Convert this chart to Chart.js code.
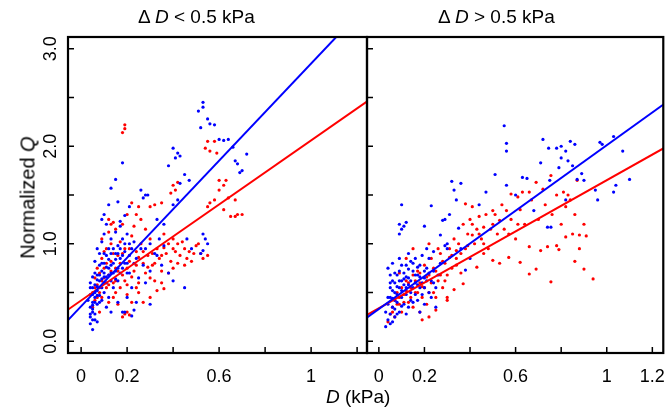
<!DOCTYPE html>
<html>
<head>
<meta charset="utf-8">
<script src="https://cdn.jsdelivr.net/npm/chart.js@4"></script>
<style>
  body { margin: 0; background: #fff; font-family: "Liberation Sans", Arial, sans-serif; overflow: hidden; }
  #wrap { position: relative; width: 666px; height: 413px; overflow: hidden; }
  .box { position: absolute; top: 0; height: 413px; }
  .lbl { position: absolute; font-size: 19px; color: #000; white-space: nowrap; }
</style>
</head>
<body>
<div id="wrap">
  <div class="box" style="left:0;width:371px"><canvas id="left"></canvas></div>
  <div class="box" style="left:363px;width:307px"><canvas id="right"></canvas></div>
  <div class="lbl" style="left:138px;top:6px">Δ <i>D</i> &lt; 0.5 kPa</div>
  <div class="lbl" style="left:438px;top:6px">Δ <i>D</i> &gt; 0.5 kPa</div>
  <div class="lbl" style="left:326px;top:386px"><i>D</i> (kPa)</div>
  <div class="lbl" style="left:-52px;top:186px;transform:rotate(-90deg);width:160px;text-align:center;font-size:20px">Normalized <i>Q</i></div>
</div>
<script>
// tick values
const xTicks = [0, 0.2, 0.4, 0.6, 0.8, 1, 1.2];
const xLabelsLeft = ["0", "0.2", "", "0.6", "", "1", ""];
const xLabelsRight = ["0", "0.2", "", "0.6", "", "1", "1.2"];
const yTicks = [0, 0.5, 1, 1.5, 2, 2.5, 3];
const yLabels = ["0.0", "", "1.0", "", "2.0", "", "3.0"];

// regression lines: [x, y] endpoints
const leftBlueFit = [[-0.06, 0.21], [1.25, 3.47]];
const leftRedFit = [[-0.06, 0.32], [1.25, 2.47]];
const rightBlueFit = [[-0.06, 0.23], [1.25, 2.43]];
const rightRedFit = [[-0.06, 0.26], [1.25, 1.98]];

// left panel, blue points
const leftBlue = [
  [0.04,0.18],[0.04,0.25],[0.05,0.22],[0.05,0.30],[0.04,0.35],[0.06,0.28],[0.05,0.40],[0.06,0.45],[0.04,0.48],[0.07,0.38],
  [0.07,0.52],[0.06,0.58],[0.05,0.55],[0.08,0.47],[0.08,0.62],[0.09,0.55],[0.07,0.68],[0.09,0.72],[0.10,0.60],[0.10,0.80],
  [0.11,0.66],[0.12,0.75],[0.11,0.88],[0.13,0.62],[0.12,0.95],[0.14,0.80],[0.13,0.70],[0.15,0.90],[0.15,0.72],[0.16,0.98],
  [0.17,0.85],[0.16,0.62],[0.18,0.75],[0.18,1.05],[0.19,0.92],[0.20,0.80],[0.20,1.10],[0.21,0.70],[0.22,0.95],[0.22,0.55],
  [0.23,1.02],[0.24,0.85],[0.25,0.65],[0.09,0.42],[0.10,0.50],[0.12,0.45],[0.14,0.55],[0.08,0.90],[0.06,0.82],[0.07,0.95],
  [0.09,1.02],[0.10,1.10],[0.13,1.05],[0.15,1.12],[0.17,1.18],[0.03,0.42],[0.04,0.60],[0.05,0.66],[0.06,0.70],[0.08,0.78],
  [0.11,0.35],[0.13,0.30],[0.05,0.12],[0.07,0.20],[0.16,0.40],[0.20,0.45],[0.26,0.95],[0.27,0.78],[0.28,0.60],[0.30,0.72],
  [0.32,0.90],[0.24,0.40],[0.19,0.30],[0.34,1.05],[0.36,0.98],
  [0.04,0.28],[0.05,0.33],[0.05,0.37],[0.06,0.40],[0.06,0.50],[0.07,0.47],[0.07,0.56],[0.07,0.63],[0.08,0.55],[0.08,0.68],
  [0.09,0.64],[0.09,0.80],[0.10,0.70],[0.10,0.66],[0.11,0.60],[0.11,0.76],[0.12,0.68],[0.12,0.84],[0.13,0.78],[0.13,0.90],
  [0.14,0.70],[0.14,0.95],[0.15,0.64],[0.15,0.84],[0.16,0.75],[0.16,0.90],[0.17,0.70],[0.17,0.95],[0.18,0.88],[0.19,0.80],
  [0.19,1.00],[0.20,0.70],[0.21,0.88],[0.21,1.00],[0.23,0.80],[0.06,0.22],[0.05,0.48],[0.08,0.40],[0.04,0.55],[0.10,0.90],
  [0.53,2.45],[0.53,2.40],[0.51,2.36],[0.55,2.28],[0.56,2.23],[0.58,2.22],[0.52,2.19],[0.60,2.07],[0.62,2.06],[0.64,2.07],
  [0.66,1.99],[0.72,1.92],[0.67,1.85],[0.68,1.82],[0.70,1.75],[0.69,1.73],[0.40,1.98],[0.42,1.93],[0.43,1.90],[0.41,1.88],
  [0.38,1.80],[0.45,1.71],[0.47,1.65],[0.43,1.62],[0.26,1.55],[0.28,1.50],[0.29,1.50],[0.27,1.47],[0.18,1.83],[0.15,1.66],
  [0.13,1.57],[0.12,1.40],[0.16,1.43],[0.21,1.38],[0.19,1.29],[0.17,1.23],[0.10,1.30],[0.09,1.25],[0.11,1.20],[0.33,1.25],
  [0.36,1.20],[0.40,1.40],[0.42,1.45],[0.53,1.10],[0.54,1.05],[0.55,1.00],[0.53,0.93],[0.52,0.90],[0.48,0.95],[0.46,1.05],
  [0.30,1.00],[0.28,0.95],[0.33,0.88],[0.35,0.78],[0.38,0.70],[0.40,0.62],[0.45,0.55],[0.30,0.38],[0.23,0.32],[0.22,0.26],
  [0.18,0.30]
];

// left panel, red points
const leftRed = [
  [0.05,0.35],[0.06,0.42],[0.05,0.50],[0.07,0.58],[0.06,0.65],[0.08,0.70],[0.07,0.45],[0.09,0.62],[0.10,0.75],[0.09,0.85],
  [0.11,0.55],[0.12,0.68],[0.11,0.95],[0.13,0.82],[0.14,0.60],[0.13,1.00],[0.15,0.75],[0.16,0.88],[0.17,0.55],[0.17,1.02],
  [0.18,0.68],[0.19,0.95],[0.20,0.58],[0.21,0.82],[0.22,1.08],[0.23,0.72],[0.24,0.92],[0.25,0.60],[0.26,1.00],[0.27,0.80],
  [0.28,0.70],[0.29,0.88],[0.30,1.05],[0.31,0.78],[0.32,0.62],[0.33,0.95],[0.34,0.85],[0.35,0.72],[0.37,0.90],[0.38,1.00],
  [0.39,0.82],[0.41,0.92],[0.43,0.88],[0.44,1.02],[0.46,0.85],[0.49,0.90],[0.51,1.00],[0.53,0.85],[0.14,0.45],[0.16,0.38],
  [0.12,0.40],[0.08,0.30],[0.10,0.92],[0.12,1.12],[0.14,1.22],[0.09,1.05],[0.18,1.20],[0.20,1.30],[0.23,1.18],[0.26,1.25],
  [0.28,1.15],
  [0.06,0.55],[0.07,0.75],[0.08,0.50],[0.09,0.45],[0.10,0.65],[0.11,0.80],[0.12,0.58],[0.13,0.72],[0.14,0.90],[0.15,0.62],
  [0.16,0.72],[0.17,0.80],[0.18,0.90],[0.19,0.62],[0.20,0.75],[0.21,0.95],[0.22,0.66],[0.24,0.78],[0.25,0.86],[0.27,0.92],
  [0.29,0.76],[0.31,0.90],[0.32,0.80],[0.35,0.88],[0.36,0.96],[0.40,0.95],[0.42,0.80],[0.15,0.50],[0.20,0.48],[0.24,0.55],
  [0.19,2.22],[0.19,2.18],[0.18,2.14],[0.55,2.05],[0.58,2.05],[0.54,1.98],[0.56,1.95],[0.59,1.93],[0.40,1.60],[0.41,1.55],
  [0.42,1.63],[0.39,1.52],[0.60,1.65],[0.62,1.60],[0.63,1.65],[0.60,1.55],[0.64,1.47],[0.58,1.45],[0.56,1.42],[0.67,1.45],
  [0.55,1.38],[0.62,1.35],[0.65,1.28],[0.68,1.30],[0.70,1.30],[0.67,1.28],[0.32,1.40],[0.30,1.38],[0.35,1.42],[0.22,1.42],
  [0.25,1.38],[0.24,1.30],[0.12,1.25],[0.13,1.20],[0.15,1.15],[0.36,1.10],[0.40,1.05],[0.42,1.00],[0.45,0.95],[0.50,0.98],
  [0.47,0.92],[0.52,0.90],[0.55,0.88],[0.48,0.82],[0.45,0.78],[0.40,0.75],[0.38,0.70],[0.35,0.60],[0.30,0.65],[0.33,0.52],
  [0.36,0.54],[0.30,0.45],[0.25,0.50],[0.27,0.40],[0.22,0.40],[0.18,0.25],[0.19,0.28],[0.21,0.27],[0.20,0.30]
];

// right panel, blue points
const rightBlue = [
  [0.03,0.15],[0.04,0.22],[0.03,0.30],[0.05,0.28],[0.04,0.38],[0.06,0.35],[0.05,0.45],[0.07,0.42],[0.06,0.52],[0.08,0.48],
  [0.07,0.60],[0.09,0.55],[0.08,0.68],[0.10,0.62],[0.10,0.45],[0.11,0.70],[0.12,0.55],[0.12,0.78],[0.13,0.65],[0.14,0.50],
  [0.14,0.82],[0.15,0.72],[0.16,0.60],[0.16,0.85],[0.17,0.68],[0.18,0.55],[0.18,0.78],[0.19,0.88],[0.20,0.65],[0.21,0.75],
  [0.22,0.50],[0.22,0.85],[0.23,0.62],[0.24,0.72],[0.25,0.55],[0.05,0.68],[0.04,0.75],[0.06,0.80],[0.09,0.85],[0.11,0.38],
  [0.13,0.35],[0.15,0.40],[0.17,0.42],[0.20,0.38],[0.09,0.30],[0.07,0.25],[0.19,0.48],[0.13,0.90],[0.26,0.68],[0.27,0.80],
  [0.24,0.92],[0.21,0.95],[0.12,0.28],[0.25,0.35],[0.18,0.30],
  [0.04,0.45],[0.05,0.55],[0.05,0.60],[0.06,0.44],[0.06,0.62],[0.07,0.50],[0.07,0.70],[0.08,0.56],[0.08,0.40],[0.09,0.62],
  [0.09,0.72],[0.10,0.52],[0.10,0.78],[0.11,0.58],[0.11,0.64],[0.12,0.66],[0.12,0.48],[0.13,0.58],[0.13,0.74],[0.14,0.62],
  [0.15,0.55],[0.15,0.80],[0.16,0.68],[0.17,0.58],[0.17,0.76],[0.18,0.66],[0.19,0.60],[0.20,0.72],[0.20,0.55],[0.21,0.62],
  [0.22,0.70],[0.23,0.45],[0.24,0.60],[0.06,0.20],[0.05,0.18],[0.07,0.33],[0.08,0.28],[0.14,0.42],[0.16,0.48],[0.10,0.36],
  [0.55,2.21],[0.56,2.03],[0.56,1.95],[0.72,2.07],[0.745,1.98],[0.71,1.83],[0.78,1.98],[0.80,2.00],[0.82,1.95],[0.84,2.05],
  [0.86,2.02],[0.80,1.88],[0.83,1.85],[0.79,1.78],[0.85,1.80],[0.97,2.04],[0.98,2.02],[1.03,2.10],[1.07,1.95],[1.10,1.66],
  [1.04,1.60],[1.03,1.53],[0.96,1.45],[0.95,1.55],[0.89,1.72],[0.87,1.66],[0.90,1.65],[0.755,1.17],[0.74,1.17],[0.10,1.40],
  [0.09,1.20],[0.10,1.15],[0.11,1.18],[0.12,1.22],[0.09,1.10],[0.23,1.39],[0.32,1.64],[0.33,1.55],[0.34,1.45],[0.36,1.62],
  [0.29,1.25],[0.28,1.24],[0.20,1.18],[0.27,1.09],[0.30,1.00],[0.30,0.95],[0.29,0.98],[0.47,1.53],[0.51,1.71],[0.56,1.60],
  [0.63,1.68],[0.65,1.67],[0.75,1.65],[0.82,1.45],[0.68,1.34],[0.60,1.50],[0.35,1.16],[0.38,0.73],[0.40,0.85],[0.36,0.95],
  [0.31,1.30],[0.44,1.40]
];

// right panel, red points
const rightRed = [
  [0.04,0.20],[0.05,0.28],[0.06,0.35],[0.07,0.25],[0.07,0.42],[0.08,0.50],[0.09,0.38],[0.10,0.55],[0.10,0.30],[0.11,0.48],
  [0.12,0.62],[0.13,0.40],[0.14,0.55],[0.15,0.68],[0.15,0.35],[0.16,0.50],[0.17,0.72],[0.18,0.60],[0.19,0.45],[0.20,0.78],
  [0.20,0.55],[0.21,0.38],[0.22,0.68],[0.23,0.85],[0.24,0.50],[0.25,0.72],[0.26,0.62],[0.27,0.90],[0.28,0.55],[0.29,0.80],
  [0.30,0.68],[0.31,0.95],[0.32,0.75],[0.33,1.05],[0.34,0.85],[0.35,1.00],[0.36,0.70],[0.37,1.20],[0.38,0.95],[0.39,1.10],
  [0.40,1.25],[0.42,1.00],[0.43,1.15],[0.45,1.05],[0.47,1.30],[0.48,0.95],[0.50,1.20],[0.52,1.10],[0.54,1.40],[0.55,1.15],
  [0.58,1.25],[0.60,1.05],[0.62,1.35],[0.64,1.20],[0.67,1.45],[0.70,1.25],[0.73,1.40],[0.76,1.30],[0.78,1.50],[0.80,1.20],
  [0.84,1.45],[0.86,1.30],[0.12,0.85],[0.15,0.95],[0.18,0.30],[0.22,0.25],[0.09,0.70],[0.26,0.95],[0.30,0.45],
  [0.06,0.30],[0.08,0.38],[0.09,0.45],[0.11,0.40],[0.12,0.52],[0.13,0.60],[0.14,0.45],[0.16,0.62],[0.17,0.50],[0.18,0.70],
  [0.19,0.56],[0.21,0.66],[0.22,0.50],[0.23,0.60],[0.24,0.75],[0.25,0.45],[0.27,0.68],[0.28,0.82],[0.29,0.62],[0.32,0.88],
  [0.34,0.78],[0.36,0.90],[0.39,0.98],[0.41,1.20],[0.44,1.10],[0.46,1.00],[0.49,1.15],[0.51,1.30],[0.57,1.10],[0.61,1.20],
  [0.38,1.41],[0.41,1.38],[0.44,1.28],[0.50,1.34],[0.53,1.24],[0.56,1.34],[0.58,1.51],[0.61,1.48],[0.63,1.53],[0.66,1.53],
  [0.69,1.63],[0.72,1.56],[0.755,1.70],[0.81,1.53],[0.83,1.50],[0.87,1.65],[0.82,1.38],[0.71,0.93],[0.74,0.97],[0.78,0.98],
  [0.82,1.07],[0.85,1.10],[0.88,1.09],[0.90,1.20],[0.91,1.08],[0.88,0.95],[0.86,0.82],[0.90,0.74],[0.94,0.64],[0.755,0.61],
  [0.66,0.69],[0.69,0.74],[0.62,0.81],[0.57,0.86],[0.53,0.80],[0.50,0.83],[0.46,0.90],[0.43,0.76],[0.37,0.59],[0.33,0.53],
  [0.30,0.42],[0.25,0.32],[0.19,0.22],[0.31,0.86],[0.34,0.93],[0.22,1.00],[0.41,1.09],[0.46,1.17],[0.66,0.97],[0.79,0.94]
];

const FONT = "'Liberation Sans', Arial, sans-serif";

// inward ticks, y labels and frame
const framePlugin = {
  id: "frame",
  afterDraw(chart, args, opts) {
    const ctx = chart.ctx;
    const a = chart.chartArea;
    const xs = chart.scales.x, ys = chart.scales.y;
    ctx.save();
    ctx.strokeStyle = "#000";
    ctx.lineWidth = 1.5;
    ctx.beginPath();
    xTicks.forEach(v => {
      const px = xs.getPixelForValue(v);
      ctx.moveTo(px, a.bottom); ctx.lineTo(px, a.bottom - 6);
    });
    yTicks.forEach(v => {
      const py = ys.getPixelForValue(v);
      ctx.moveTo(a.left, py); ctx.lineTo(a.left + 6, py);
    });
    ctx.stroke();
    ctx.lineWidth = 2.2;
    ctx.strokeRect(a.left, a.top, a.right - a.left, a.bottom - a.top);
    if (opts.yLabels) {
      ctx.fillStyle = "#000";
      ctx.font = "18px " + FONT;
      ctx.textAlign = "center";
      ctx.textBaseline = "middle";
      yTicks.forEach((v, i) => {
        if (!yLabels[i]) return;
        const py = ys.getPixelForValue(v);
        ctx.save();
        ctx.translate(a.left - 17, py);
        ctx.rotate(-Math.PI / 2);
        ctx.fillText(yLabels[i], 0, 0);
        ctx.restore();
      });
    }
    ctx.restore();
  }
};

function makePanel(id, blue, red, blueFit, redFit, xMin, xLabels, isLeft) {
  const pts = d => d.map(p => ({ x: p[0], y: p[1] }));
  new Chart(document.getElementById(id), {
    type: "scatter",
    data: {
      datasets: [
        { data: pts(blueFit), showLine: true, borderColor: "#0000ff", borderWidth: 2, pointRadius: 0, order: 0 },
        { data: pts(redFit), showLine: true, borderColor: "#ff0000", borderWidth: 2, pointRadius: 0, order: 0 },
        { data: pts(blue), backgroundColor: "#0000ff", borderWidth: 0, pointRadius: 1.6, order: 1 },
        { data: pts(red), backgroundColor: "#ff0000", borderWidth: 0, pointRadius: 1.6, order: 2 }
      ]
    },
    options: {
      responsive: true,
      maintainAspectRatio: false,
      animation: false,
      layout: { padding: { top: 37, right: 0, left: 0, bottom: 0 } },
      plugins: { legend: { display: false }, tooltip: { enabled: false }, frame: { yLabels: isLeft } },
      scales: {
        x: {
          type: "linear", min: xMin, max: xMin + 1.3,
          afterBuildTicks: s => { s.ticks = xTicks.map(v => ({ value: v })); },
          afterFit: s => { s.height = 60; },
          grid: { display: false }, border: { display: false },
          ticks: {
            color: "#000", padding: 5, maxRotation: 0, autoSkip: false,
            font: { size: 18, family: FONT },
            callback: (v) => { const i = xTicks.indexOf(v); return i >= 0 ? xLabels[i] : ""; }
          }
        },
        y: {
          type: "linear", min: -0.12, max: 3.12,
          afterBuildTicks: s => { s.ticks = yTicks.map(v => ({ value: v })); },
          afterFit: s => { s.width = isLeft ? 68 : 0; },
          grid: { display: false }, border: { display: false },
          ticks: { display: false }
        }
      }
    },
    plugins: [framePlugin]
  });
}

makePanel("left", leftBlue, leftRed, leftBlueFit, leftRedFit, -0.057, xLabelsLeft, true);
makePanel("right", rightBlue, rightRed, rightBlueFit, rightRedFit, -0.052, xLabelsRight, false);
</script>
</body>
</html>
